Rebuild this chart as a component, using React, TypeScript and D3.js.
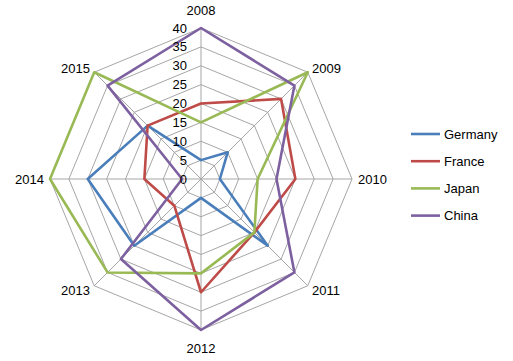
import React, { useEffect, useRef } from 'react'
import * as d3 from 'd3'

const categories = ['2008', '2009', '2010', '2011', '2012', '2013', '2014', '2015']
const seriesNames = ['Germany', 'France', 'Japan', 'China']
const germany = [5, 10, 5, 25, 5, 25, 30, 20]
const france = [20, 30, 25, 20, 30, 10, 15, 20]
const japan = [15, 40, 15, 20, 25, 35, 40, 40]
const china = [40, 35, 20, 35, 40, 30, 5, 35]
const tickValues = [0, 5, 10, 15, 20, 25, 30, 35, 40]

const colors = ['#4a7ebb', '#be4b48', '#98b954', '#7d60a0']

const RadarChart: React.FC = () => {
  const svgRef = useRef<SVGSVGElement>(null)

  const width = 513
  const height = 361
  const cx = 201
  const cy = 179
  const radius = 151

  useEffect(() => {
    if (!svgRef.current) return
    const svg = d3.select(svgRef.current)
    svg.selectAll('*').remove()

    const allSeries = [germany, france, japan, china]
    const font = '"Liberation Sans", Arial, sans-serif'

    const rScale = d3.scaleLinear().domain([0, 40]).range([0, radius])
    // one spoke per category, clockwise from the top
    const angleScale = d3
      .scaleLinear()
      .domain([0, categories.length])
      .range([0, 2 * Math.PI])
    const angleOf = (i: number) => angleScale(i)

    const g = svg.append('g').attr('transform', `translate(${cx}, ${cy})`)

    const ring = d3
      .lineRadial<number>()
      .angle((_, i) => angleOf(i))
      .radius((d) => rScale(d))
      .curve(d3.curveLinearClosed)

    // grid octagons
    g.selectAll('.grid')
      .data(tickValues.filter((t) => t > 0))
      .enter()
      .append('path')
      .attr('class', 'grid')
      .attr('d', (t) => ring(categories.map(() => t)))
      .attr('fill', 'none')
      .attr('stroke', '#a6a6a6')
      .attr('stroke-width', 1)

    // spokes
    g.selectAll('.spoke')
      .data(categories)
      .enter()
      .append('line')
      .attr('class', 'spoke')
      .attr('x1', 0)
      .attr('y1', 0)
      .attr('x2', (_, i) => rScale(40) * Math.sin(angleOf(i)))
      .attr('y2', (_, i) => -rScale(40) * Math.cos(angleOf(i)))
      .attr('stroke', '#a6a6a6')
      .attr('stroke-width', 1)

    // series
    g.selectAll('.series')
      .data(allSeries)
      .enter()
      .append('path')
      .attr('class', 'series')
      .attr('d', (d) => ring(d))
      .attr('fill', 'none')
      .attr('stroke', (_, i) => colors[i])
      .attr('stroke-width', 2.6)
      .attr('stroke-linejoin', 'round')

    // tick labels on the 2008 spoke
    g.selectAll('.tick-label')
      .data(tickValues)
      .enter()
      .append('text')
      .attr('class', 'tick-label')
      .attr('x', -14)
      .attr('y', (t) => -rScale(t))
      .attr('dy', '0.35em')
      .attr('text-anchor', 'end')
      .style('font-family', font)
      .style('font-size', '13px')
      .attr('fill', '#000')
      .text((t) => String(t))

    // category labels
    g.selectAll('.cat-label')
      .data(categories)
      .enter()
      .append('text')
      .attr('class', 'cat-label')
      .attr('x', (_, i) => (radius + 6) * Math.sin(angleOf(i)))
      .attr('y', (_, i) => {
        const c = Math.cos(angleOf(i))
        const base = -(radius + 6) * c
        return Math.abs(c) > 0.9 ? base - 12 * c : base
      })
      .attr('dy', '0.35em')
      .attr('text-anchor', (_, i) => {
        const s = Math.sin(angleOf(i))
        if (s > 0.1) return 'start'
        if (s < -0.1) return 'end'
        return 'middle'
      })
      .style('font-family', font)
      .style('font-size', '13px')
      .attr('fill', '#000')
      .text((d) => d)

    // legend
    const legend = svg.append('g').attr('transform', 'translate(411, 134)')
    const rowH = 27.2
    legend
      .selectAll('line')
      .data(seriesNames)
      .enter()
      .append('line')
      .attr('x1', 0)
      .attr('x2', 29)
      .attr('y1', (_, i) => i * rowH)
      .attr('y2', (_, i) => i * rowH)
      .attr('stroke', (_, i) => colors[i])
      .attr('stroke-width', 2.6)
    legend
      .selectAll('text')
      .data(seriesNames)
      .enter()
      .append('text')
      .attr('x', 33)
      .attr('y', (_, i) => i * rowH)
      .attr('dy', '0.35em')
      .style('font-family', font)
      .style('font-size', '13px')
      .attr('fill', '#000')
      .text((d) => d)
  }, [])

  return (
    <svg
      ref={svgRef}
      width={width}
      height={height}
      style={{ position: 'absolute', left: 0, top: 0, background: '#fff' }}
    ></svg>
  )
}

export default function App() {
  return <RadarChart />
}
